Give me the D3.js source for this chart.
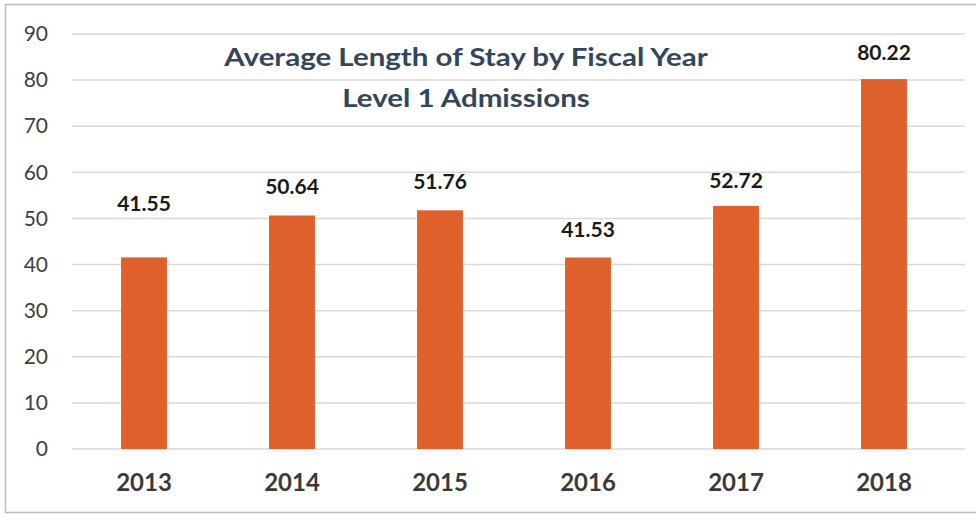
<!DOCTYPE html>
<html>
<head>
<meta charset="utf-8">
<script src="https://cdn.jsdelivr.net/npm/d3@7"></script>
<style>
  body { margin: 0; background: #fff; }
  svg { display: block; }
</style>
</head>
<body>
<div id="chart"></div>
<script>
const years = ['2013', '2014', '2015', '2016', '2017', '2018'];
const avgStay = [41.55, 50.64, 51.76, 41.53, 52.72, 80.22];
const yTicks = [0, 10, 20, 30, 40, 50, 60, 70, 80, 90];
const titleLines = ['Average Length of Stay by Fiscal Year', 'Level 1 Admissions'];

// the 2013 label was dragged up by hand in the original
const labelNudge = [25, 0, 0, 0, -3, -2];

const width = 976, height = 515;
const font = 'Lato, "Open Sans", sans-serif';

const svg = d3.select('#chart').append('svg')
    .attr('width', width)
    .attr('height', height);

// frame (left, top, bottom edges of the pasted chart)
svg.append('path')
    .attr('d', 'M976,4.5 H5.5 V512.5 H976')
    .attr('fill', 'none')
    .attr('stroke', '#bdbdbd')
    .attr('stroke-width', 1.5);

const x = d3.scaleBand()
    .domain(years)
    .range([70, 958])
    .paddingInner(0.69)
    .paddingOuter(0.345);

const y = d3.scaleLinear()
    .domain([0, 90])
    .range([449, 34]);

// gridlines
svg.append('g')
    .selectAll('line')
    .data(yTicks)
    .join('line')
    .attr('x1', 72)
    .attr('x2', 965)
    .attr('y1', d => y(d))
    .attr('y2', d => y(d))
    .attr('stroke', '#d9d9d9')
    .attr('stroke-width', 1.5);

// y axis labels
const yAxis = svg.append('g')
    .attr('transform', 'translate(48,0)')
    .call(d3.axisLeft(y).tickValues(yTicks).tickSize(0).tickPadding(0));
yAxis.select('.domain').remove();
yAxis.selectAll('text')
    .attr('font-family', font)
    .attr('font-size', 21)
    .attr('fill', '#404040');

// bars
svg.append('g')
    .selectAll('rect')
    .data(avgStay)
    .join('rect')
    .attr('x', (d, i) => x(years[i]))
    .attr('width', x.bandwidth())
    .attr('y', d => y(d))
    .attr('height', d => y(0) - y(d))
    .attr('fill', '#e0602b');

// value labels
svg.append('g')
    .selectAll('text')
    .data(avgStay)
    .join('text')
    .attr('x', (d, i) => x(years[i]) + x.bandwidth() / 2)
    .attr('y', (d, i) => y(d) - 21 - labelNudge[i])
    .attr('text-anchor', 'middle')
    .attr('font-family', font)
    .attr('font-weight', 'bold')
    .attr('font-size', 21)
    .attr('fill', '#1a1a1a')
    .text(d => d.toFixed(2));

// category axis
const xAxis = svg.append('g')
    .attr('transform', `translate(0,${y(0)})`)
    .call(d3.axisBottom(x).tickSize(0).tickPadding(25));
xAxis.select('.domain').remove();
xAxis.selectAll('text')
    .attr('font-family', font)
    .attr('font-weight', 'bold')
    .attr('font-size', 24)
    .attr('fill', '#3a3a3a');

// title, stretched a little to match the wide scanned lettering
svg.append('g')
    .attr('transform', 'translate(466,0) scale(1.18,1)')
    .selectAll('text')
    .data(titleLines)
    .join('text')
    .attr('x', 0)
    .attr('y', (d, i) => 66 + i * 41)
    .attr('text-anchor', 'middle')
    .attr('font-family', font)
    .attr('font-weight', 'bold')
    .attr('font-size', 25)
    .attr('fill', '#33465a')
    .text(d => d);
</script>
</body>
</html>
